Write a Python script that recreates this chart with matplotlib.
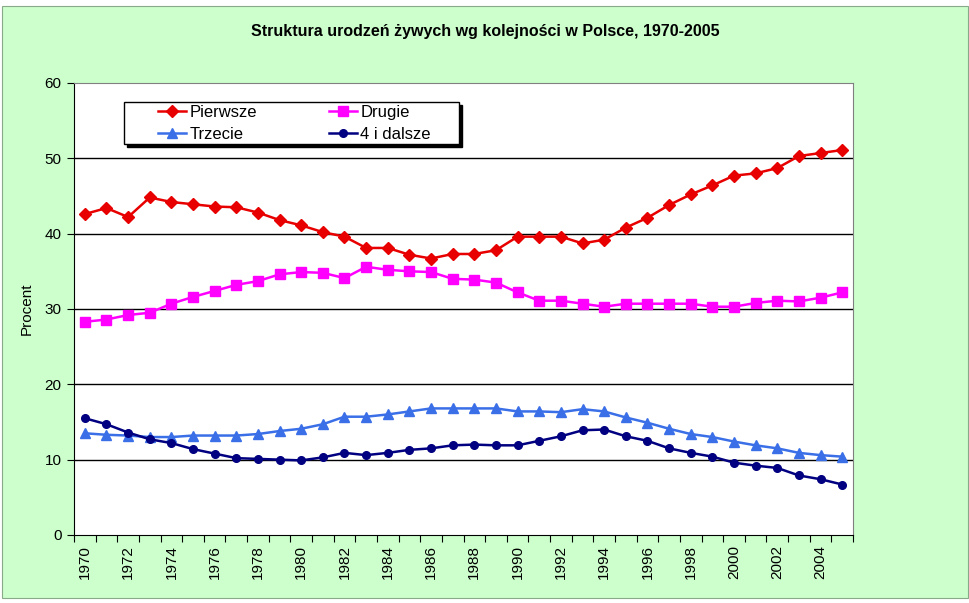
import matplotlib
matplotlib.use("Agg")
import matplotlib.pyplot as plt
from matplotlib.patches import Rectangle
from matplotlib.ticker import FixedLocator, NullFormatter

plt.rcParams['font.family'] = ['Liberation Sans', 'DejaVu Sans']

years = list(range(1970, 2006))
pierwsze = [42.6, 43.4, 42.2, 44.8, 44.2, 43.9, 43.6, 43.5, 42.8, 41.8,
            41.1, 40.2, 39.6, 38.1, 38.1, 37.2, 36.7, 37.3, 37.3, 37.8,
            39.6, 39.6, 39.6, 38.7, 39.2, 40.8, 42.1, 43.8, 45.2, 46.4,
            47.7, 48.0, 48.7, 50.3, 50.7, 51.1]
drugie = [28.3, 28.6, 29.2, 29.5, 30.7, 31.6, 32.4, 33.2, 33.7, 34.6,
          34.9, 34.8, 34.1, 35.6, 35.2, 35.0, 34.9, 34.0, 33.9, 33.5,
          32.2, 31.1, 31.1, 30.7, 30.3, 30.7, 30.7, 30.7, 30.7, 30.3,
          30.3, 30.8, 31.1, 31.0, 31.5, 32.2]
trzecie = [13.5, 13.3, 13.2, 13.0, 13.0, 13.2, 13.2, 13.2, 13.4, 13.8,
           14.1, 14.7, 15.7, 15.7, 16.0, 16.4, 16.8, 16.8, 16.8, 16.8,
           16.4, 16.4, 16.3, 16.7, 16.4, 15.6, 14.9, 14.1, 13.4, 13.0,
           12.4, 11.9, 11.5, 10.9, 10.6, 10.4]
dalsze = [15.5, 14.7, 13.6, 12.7, 12.2, 11.4, 10.8, 10.2, 10.1, 10.0,
          9.9, 10.3, 10.9, 10.6, 10.9, 11.3, 11.5, 11.9, 12.0, 11.9,
          11.9, 12.5, 13.1, 13.9, 14.0, 13.1, 12.5, 11.5, 10.9, 10.4,
          9.6, 9.2, 8.9, 7.9, 7.4, 6.7]

W, H = 970, 603
fig = plt.figure(figsize=(W / 100, H / 100), dpi=100)
fig.patch.set_facecolor('white')
fig.patches.append(Rectangle((0.002, 0.008), 0.996, 0.982, transform=fig.transFigure,
                             facecolor='#CCFFCC', edgecolor='#88AA88', lw=0.8, zorder=-10))

ax = fig.add_axes([0.0763, 0.1128, 0.8031, 0.7496])
ax.set_facecolor('white')
x = list(range(len(years)))

l1, = ax.plot(x, pierwsze, color='#E80000', marker='D', markersize=6, lw=1.8, label='Pierwsze')
l2, = ax.plot(x, drugie, color='#FF00FF', marker='s', markersize=6.5, lw=1.8, label='Drugie')
l3, = ax.plot(x, trzecie, color='#3A6FE8', marker='^', markersize=7, lw=1.8, label='Trzecie')
l4, = ax.plot(x, dalsze, color='#000080', marker='o', markersize=5.5, lw=1.8, label='4 i dalsze')

ax.set_xlim(-0.5, len(years) - 0.5)
ax.set_ylim(0, 60)
ax.set_yticks(range(0, 61, 10))
for v in range(10, 60, 10):
    ax.axhline(v, color='black', lw=1, zorder=0)

ax.xaxis.set_major_locator(FixedLocator([i - 0.5 for i in range(len(years) + 1)]))
ax.xaxis.set_major_formatter(NullFormatter())
ax.xaxis.set_minor_locator(FixedLocator(x[::2]))
ax.set_xticklabels([str(y) for y in years[::2]], minor=True, rotation=90, fontsize=11)
ax.tick_params(axis='x', which='major', direction='out', length=5, color='black')
ax.tick_params(axis='x', which='minor', length=0, pad=7)
ax.tick_params(axis='y', direction='out', length=5, labelsize=11, pad=4)

for s in ['top', 'right']:
    ax.spines[s].set_color('#808080')
for s in ['left', 'bottom']:
    ax.spines[s].set_color('black')

ax.set_ylabel('Procent', fontsize=11, labelpad=8)
fig.text(0.5, 0.948, 'Struktura urodzeń żywych wg kolejności w Polsce, 1970-2005',
         ha='center', va='center', fontsize=11.5, fontweight='bold')

# legend box with shadow, drawn by hand (pixel coords of the reference)
bx0, bx1, by0, by1 = 124, 459, 102, 144
fig.patches.append(Rectangle(((bx0 + 3) / W, 1 - (by1 + 3) / H), (bx1 - bx0) / W, (by1 - by0) / H,
                             transform=fig.transFigure, facecolor='black', edgecolor='black', zorder=5))
fig.patches.append(Rectangle((bx0 / W, 1 - by1 / H), (bx1 - bx0) / W, (by1 - by0) / H,
                             transform=fig.transFigure, facecolor='white', edgecolor='black',
                             lw=1, zorder=6))
leg = fig.legend([l1, l3, l2, l4], ['Pierwsze', 'Trzecie', 'Drugie', '4 i dalsze'],
                 ncol=2, loc='upper left', bbox_to_anchor=(158 / W, 1 - 105 / H), fontsize=12,
                 frameon=False, handlelength=1.7, columnspacing=4.3,
                 borderpad=0, borderaxespad=0, labelspacing=0.4, handletextpad=0.2)
leg.set_zorder(7)

fig.savefig('out.png', dpi=100, facecolor=fig.get_facecolor())
